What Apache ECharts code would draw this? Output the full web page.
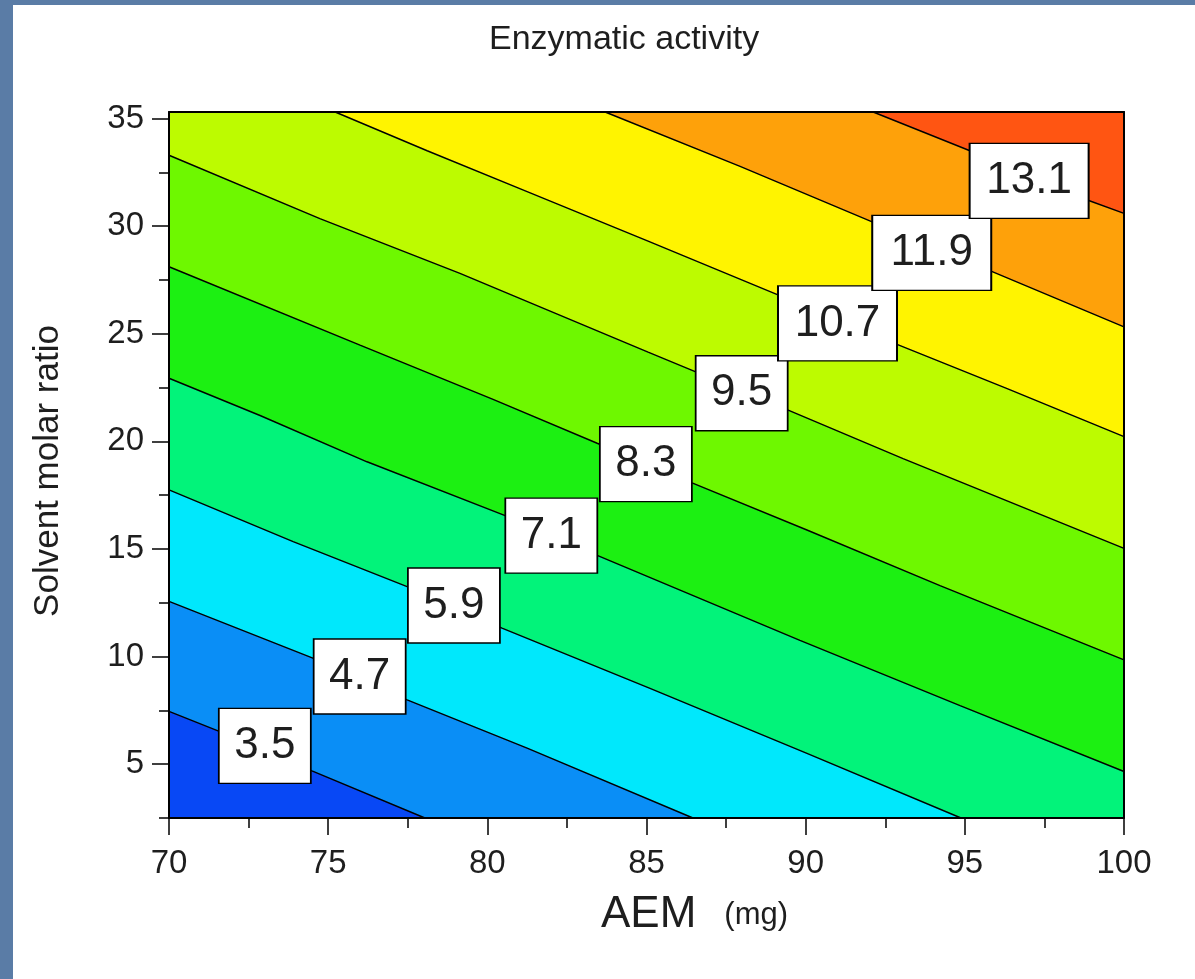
<!DOCTYPE html>
<html>
<head>
<meta charset="utf-8">
<script src="https://cdn.jsdelivr.net/npm/echarts@6/dist/echarts.min.js"></script>
<style>
  html, body { margin: 0; padding: 0; background: #5a7ca6; }
  #chart { width: 1195px; height: 979px; }
</style>
</head>
<body>
<div id="chart"></div>
<script>
// ---- data ----
const xExtent = [70, 100];          // AEM (mg)
const yExtent = [2.5, 35.3];        // Solvent molar ratio
const xTickLabels = [70, 75, 80, 85, 90, 95, 100];
const yTickLabels = [5, 10, 15, 20, 25, 30, 35];
const yMinorTicks = [2.5, 7.5, 12.5, 17.5, 22.5, 27.5, 32.5];

const levels = [3.5, 4.7, 5.9, 7.1, 8.3, 9.5, 10.7, 11.9, 13.1];

// contour lines [AEM, ratio], traced from upper-left edge to lower-right edge
const line_3_5  = [[70, 7.45], [71.54, 6.55], [74.49, 4.69], [78.04, 2.5]];
const line_4_7  = [[70, 12.56], [74.52, 9.93], [77.48, 7.99], [81.25, 5.75], [86.46, 2.5]];
const line_5_9  = [[70, 17.74], [73.90, 15.34], [77.48, 13.25], [80.46, 11.32], [85.11, 8.52], [90.04, 5.50], [94.88, 2.5]];
const line_7_1  = [[70, 22.93], [72.86, 21.20], [76.22, 19.05], [80.56, 16.55], [83.45, 14.70], [89.82, 10.75], [94.85, 7.72], [100, 4.66]];
const line_8_3  = [[70, 28.11], [76.0, 24.47], [80.18, 21.95], [83.45, 19.91], [86.43, 18.07], [90.04, 15.88], [94.22, 13.30], [100, 9.85]];
const line_9_5  = [[70, 33.29], [74.74, 30.35], [79.14, 27.80], [85.05, 24.14], [89.45, 21.45], [93.06, 19.20], [100, 15.03]];
const line_10_7 = [[75.22, 35.3], [78.11, 33.50], [81.25, 31.60], [85.05, 29.30], [89.13, 26.80], [92.87, 24.50], [96.33, 22.45], [100, 20.22]];
const line_11_9 = [[83.70, 35.3], [87.94, 32.77], [92.09, 30.20], [95.86, 27.88], [100, 25.32]];
const line_13_1 = [[92.12, 35.3], [93.69, 34.37], [95.16, 33.50], [98.87, 31.20], [100, 30.59]];

// label box centres [AEM, ratio]
const labelPositions = [[73.01, 5.85], [75.99, 9.07], [78.95, 12.37], [82.01, 15.62], [84.98, 18.94],
                        [87.99, 22.23], [91.00, 25.48], [93.96, 28.76], [97.02, 32.10]];

// band colours, lowest to highest
const bandColors = ['#0848f5', '#0a8ef6', '#00e8fc', '#02f37a', '#1cf012',
                    '#6ef800', '#bdfb00', '#fff400', '#fea10a', '#ff5512'];

// ---- build ----
const contourLines = [line_3_5, line_4_7, line_5_9, line_7_1, line_8_3, line_9_5, line_10_7, line_11_9, line_13_1];
const FONT = '"Liberation Sans", Arial, sans-serif';
const TXT = '#1e1e1e';
const [xMin, xMax] = xExtent;
const [yMin, yMax] = yExtent;

function regionAbove(line) {
  const pts = line.slice();
  const end = line[line.length - 1];
  const start = line[0];
  if (end[0] < xMax) pts.push([xMax, yMin]);
  pts.push([xMax, yMax]);
  if (start[1] < yMax) pts.push([xMin, yMax]);
  return pts;
}

const bandSeries = {
  type: 'custom',
  coordinateSystem: 'cartesian2d',
  silent: true,
  z: 1,
  clip: true,
  data: bandColors.map((c, i) => [xMin, yMin, i]),
  renderItem: function (params, api) {
    const i = params.dataIndex;
    const pts = i === 0
      ? [[xMin, yMin], [xMax, yMin], [xMax, yMax], [xMin, yMax]]
      : regionAbove(contourLines[i - 1]);
    return {
      type: 'polygon',
      shape: { points: pts.map(p => api.coord(p)) },
      style: { fill: bandColors[i], stroke: null }
    };
  }
};

const lineSeries = contourLines.map((ln, i) => ({
  type: 'line',
  name: String(levels[i]),
  data: ln,
  symbol: 'none',
  showSymbol: false,
  silent: true,
  z: 3,
  lineStyle: { color: '#000', width: 1.4 }
}));

const labelSeries = {
  type: 'scatter',
  silent: true,
  z: 5,
  data: labelPositions.map((p, i) => ({ value: p, name: String(levels[i]) })),
  symbol: 'rect',
  symbolSize: function (val, params) {
    return params.name.length > 3 ? [119, 75] : [92, 75];
  },
  itemStyle: { color: '#fff', borderColor: '#000', borderWidth: 1.6, opacity: 1 },
  label: {
    show: true,
    position: 'inside',
    formatter: p => p.name,
    fontFamily: FONT,
    fontSize: 44,
    color: TXT
  }
};

const tickStyle = { color: '#000', width: 1.5 };
const frameStyle = { color: '#000', width: 2 };

const option = {
  backgroundColor: '#5a7ca6',
  animation: false,
  graphic: [{
    type: 'rect', z: -10, silent: true,
    shape: { x: 13, y: 5, width: 1182, height: 974 },
    style: { fill: '#ffffff' }
  }],
  title: {
    text: 'Enzymatic activity',
    left: 489, top: 23, padding: 0,
    textStyle: { fontFamily: FONT, fontSize: 34, fontWeight: 'normal', color: TXT }
  },
  grid: { left: 169, right: 71, top: 112, bottom: 161, containLabel: false },
  xAxis: [{
    type: 'value', position: 'bottom', min: xMin, max: xMax, interval: 5, z: 10,
    axisLine: { show: true, onZero: false, lineStyle: frameStyle },
    axisTick: { show: true, length: 17, lineStyle: tickStyle },
    minorTick: { show: true, splitNumber: 2, length: 10, lineStyle: tickStyle },
    splitLine: { show: false }, minorSplitLine: { show: false },
    axisLabel: { margin: 29, fontFamily: FONT, fontSize: 33, color: TXT,
                 customValues: xTickLabels },
    name: '{a|AEM}{b|(mg)}',
    nameLocation: 'middle',
    nameGap: 75,
    nameTextStyle: {
      padding: [0, 0, 0, 96],
      rich: {
        a: { fontFamily: FONT, fontSize: 44, color: TXT },
        b: { fontFamily: FONT, fontSize: 31, color: TXT, padding: [0, 0, 0, 28] }
      }
    }
  }, {
    type: 'value', position: 'top', min: xMin, max: xMax, z: 10,
    axisLine: { show: true, onZero: false, lineStyle: frameStyle },
    axisTick: { show: false }, axisLabel: { show: false }, splitLine: { show: false }
  }],
  yAxis: [{
    type: 'value', position: 'left', min: yMin, max: yMax, z: 10,
    axisLine: { show: true, onZero: false, lineStyle: frameStyle },
    axisTick: { show: true, length: 17, lineStyle: tickStyle, customValues: yTickLabels },
    axisLabel: { margin: 25, fontFamily: FONT, fontSize: 33, color: TXT, customValues: yTickLabels },
    splitLine: { show: false },
    name: 'Solvent molar ratio',
    nameLocation: 'middle',
    nameGap: 103,
    nameTextStyle: { fontFamily: FONT, fontSize: 35, color: TXT, padding: [0, 12, 0, 0] }
  }, {
    type: 'value', position: 'left', min: yMin, max: yMax, z: 10,
    axisLine: { show: false },
    axisTick: { show: true, length: 10, lineStyle: tickStyle, customValues: yMinorTicks },
    axisLabel: { show: false }, splitLine: { show: false }
  }, {
    type: 'value', position: 'right', min: yMin, max: yMax, z: 10,
    axisLine: { show: true, onZero: false, lineStyle: frameStyle },
    axisTick: { show: false }, axisLabel: { show: false }, splitLine: { show: false }
  }],
  series: [bandSeries].concat(lineSeries, [labelSeries])
};

const chart = echarts.init(document.getElementById('chart'), null, { renderer: 'canvas' });
chart.setOption(option);
</script>
</body>
</html>
